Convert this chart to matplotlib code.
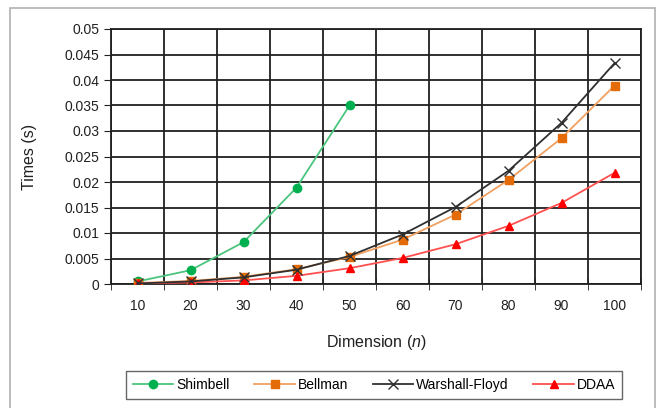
import matplotlib.pyplot as plt
from matplotlib.patches import Rectangle
import numpy as np

plt.rcParams['font.family'] = ['Liberation Sans', 'DejaVu Sans']
plt.rcParams['mathtext.fontset'] = 'custom'
plt.rcParams['mathtext.it'] = 'Liberation Sans:italic'
plt.rcParams['mathtext.rm'] = 'Liberation Sans'

# data
dims = [10, 20, 30, 40, 50, 60, 70, 80, 90, 100]
shimbell = [0.0005, 0.0027, 0.0082, 0.0189, 0.0350]
bellman = [0.0002, 0.0006, 0.0014, 0.0029, 0.0053, 0.0087, 0.0136, 0.0204, 0.0286, 0.0389]
warshall = [0.0001, 0.0005, 0.0013, 0.0028, 0.0055, 0.0097, 0.0151, 0.0222, 0.0316, 0.0433]
ddaa = [0.0001, 0.0003, 0.0007, 0.0016, 0.0031, 0.0051, 0.0078, 0.0114, 0.0159, 0.0218]

fig = plt.figure(figsize=(6.57, 4.08), dpi=100)
fig.patches.append(Rectangle((10/657, -0.02), 645/657, 1.02 - 8/408,
                             transform=fig.transFigure, fill=False,
                             edgecolor='#b0b0b0', linewidth=1.2))
ax = fig.add_axes([111/657, 1 - 284/408, 530/657, 255/408])

ax.plot(dims[:5], shimbell, color='#4cc47e', lw=1.3, marker='o', ms=6,
        mfc='#00b050', mec='#00b050', label='Shimbell', zorder=4)
ax.plot(dims, bellman, color='#f0a060', lw=1.3, marker='s', ms=6,
        mfc='#e36c09', mec='#e36c09', label='Bellman', zorder=4)
ax.plot(dims, warshall, color='#303030', lw=1.3, marker='x', ms=7,
        mew=1.0, label='Warshall-Floyd', zorder=5)
ax.plot(dims, ddaa, color='#ff5050', lw=1.3, marker='^', ms=6,
        mfc='#ff0000', mec='#ff0000', label='DDAA', zorder=4)

ax.set_xlim(5, 105)
ax.set_ylim(0, 0.05)
ax.set_xticks(dims)
ax.set_xticks(np.arange(5, 106, 10), minor=True)
ax.set_yticks(np.arange(0, 0.0501, 0.005))
ax.set_yticklabels(['0', '0.005', '0.01', '0.015', '0.02', '0.025', '0.03',
                    '0.035', '0.04', '0.045', '0.05'])
ax.grid(True, which='minor', axis='x', color='#202020', lw=1.3)
ax.grid(True, which='major', axis='y', color='#202020', lw=1.3)
ax.tick_params(axis='x', which='major', length=0, pad=11, labelsize=10, colors='#202020')
ax.tick_params(axis='x', which='minor', length=8, direction='inout', color='#202020')
ax.tick_params(axis='y', length=5, direction='out', labelsize=10, color='#202020',
               labelcolor='#202020')
for s in ax.spines.values():
    s.set_color('#202020')
    s.set_linewidth(1.3)

ax.set_ylabel('Times (s)', fontsize=11.5, color='#202020', labelpad=20)
ax.set_xlabel(r'Dimension $\it{(n)}$', fontsize=11.5, color='#202020', labelpad=14)

leg = fig.legend(loc='center', bbox_to_anchor=(374/657, 1 - 385/408), ncol=4,
                 frameon=True, fancybox=False, fontsize=10, handlelength=2.9,
                 columnspacing=1.8, handletextpad=0.2, borderpad=0.5)
leg.get_frame().set_edgecolor('#404040')
leg.get_frame().set_linewidth(1.0)

fig.savefig('out.png', dpi=100)
